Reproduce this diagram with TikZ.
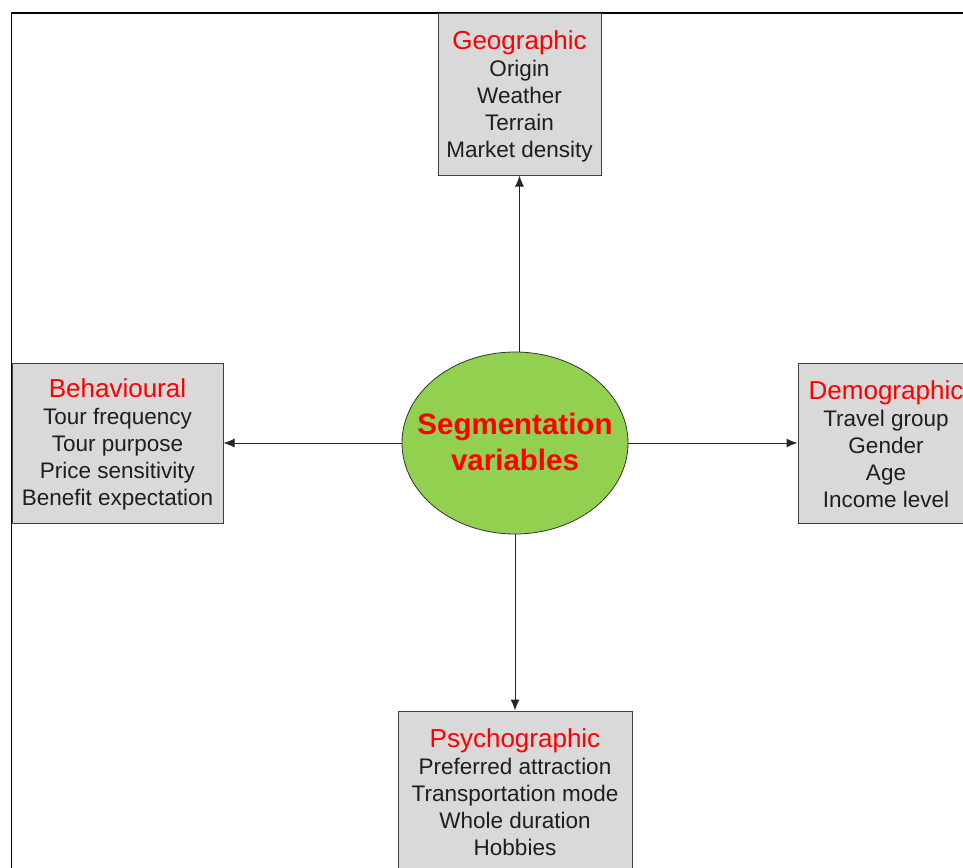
\documentclass[tikz,border=0pt]{standalone}
\usepackage{fontspec}
\setmainfont{Liberation Sans}
\usetikzlibrary{shapes.geometric,arrows.meta}
\definecolor{boxfill}{HTML}{D9D9D9}
\definecolor{boxline}{HTML}{404040}
\definecolor{ellfill}{HTML}{92D050}
\definecolor{itemtext}{HTML}{1E1E1E}
\definecolor{titlered}{HTML}{FF0000}
\newcommand{\cattitle}[1]{{\fontsize{26}{27}\selectfont\color{titlered}#1}}
\begin{document}
\begin{tikzpicture}[x=1pt,y=-1pt,
  catbox/.style={draw=boxline, fill=boxfill, line width=1pt, inner sep=0pt,
    align=center, text=itemtext, font=\fontsize{22.5}{27}\selectfont},
  cattext/.style={inner sep=0pt, align=center, text=itemtext,
    font=\fontsize{22.5}{27}\selectfont},
  hub/.style={ellipse, draw=black!80, fill=ellfill, line width=0.8pt,
    inner sep=0pt, minimum width=226pt, minimum height=182pt},
  hubtext/.style={inner sep=0pt, align=center, text=titlered,
    font=\bfseries\fontsize{29.5}{36}\selectfont},
  link/.style={draw=black!85, line width=1pt, -{Latex[length=11pt,width=9pt]}}]
\useasboundingbox (0,0) rectangle (963,867);
\clip (0,0) rectangle (963,867);
\fill[white] (0,0) rectangle (963,867);
% outer frame (runs past the right and bottom edges)
\draw[line width=1.8pt] (11.5,13) rectangle (1000,900);

% centre
\node[hub] (ell) at (515,443) {};
\node[hubtext] (hubl) at (515,442) {Segmentation\\variables};

% the four categories
\node[catbox, minimum width=163pt, minimum height=161pt] (geo) at (519.5,94.5) {};
\node[cattext] (geol) at (519.5,96.5)
  {\cattitle{Geographic}\\Origin\\Weather\\Terrain\\Market density};
\node[catbox, minimum width=211pt, minimum height=160pt] (beh) at (117.5,443) {};
\node[cattext] (behl) at (117.5,444.5)
  {\cattitle{Behavioural}\\Tour frequency\\Tour purpose\\Price sensitivity\\Benefit expectation};
\node[catbox, minimum width=176pt, minimum height=160pt] (dem) at (886,443) {};
\node[cattext] (deml) at (886,444.5)
  {\cattitle{Demographic}\\Travel group\\Gender\\Age\\Income level};
\node[catbox, minimum width=234pt, minimum height=160pt] (psy) at (515,791) {};
\node[cattext] (psyl) at (515,792.5)
  {\cattitle{Psychographic}\\Preferred attraction\\Transportation mode\\Whole duration\\Hobbies};

% connectors
\draw[link] (geo.south |- ell.north) -- (geo.south);
\draw[link] (ell.west) -- (beh.east);
\draw[link] (ell.east) -- (dem.west);
\draw[link] (ell.south) -- (psy.north);
\end{tikzpicture}
\end{document}
